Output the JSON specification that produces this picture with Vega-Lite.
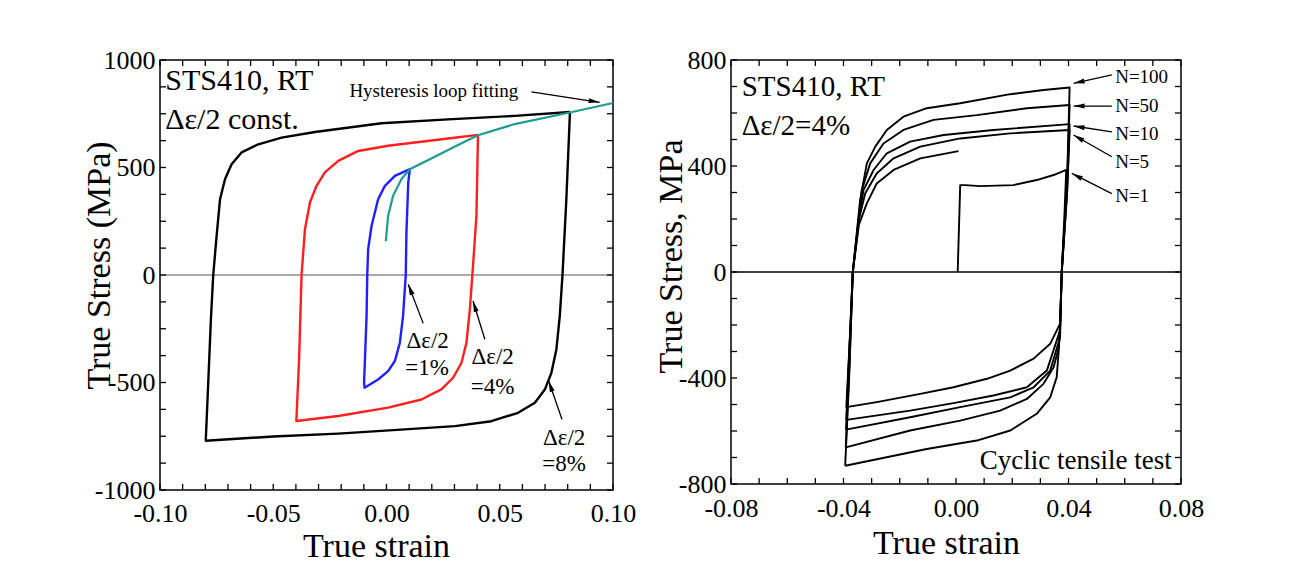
{
  "$schema": "https://vega.github.io/schema/vega-lite/v6.json",
  "background": "white",
  "padding": {"left": 81, "top": 46, "right": 5, "bottom": 5},
  "config": {
    "font": "Liberation Serif",
    "view": {"stroke": "#000", "strokeWidth": 1.5},
    "axis": {
      "labelFont": "Liberation Serif", "titleFont": "Liberation Serif",
      "labelFontSize": 26, "titleFontSize": 34, "labelColor": "#000", "titleColor": "#000",
      "titleFontWeight": "normal", "grid": false, "domain": false, "ticks": false,
      "labelOverlap": false, "labelFlush": false, "labelBound": false
    },
    "text": {"font": "Liberation Serif", "color": "#000"},
    "tick": {"color": "#000", "thickness": 1.3, "opacity": 1}
  },
  "datasets": {
    "tkLx": [{"v":-0.1},{"v":-0.09},{"v":-0.08},{"v":-0.07},{"v":-0.06},{"v":-0.05},{"v":-0.04},{"v":-0.03},{"v":-0.02},{"v":-0.01},{"v":0},{"v":0.01},{"v":0.02},{"v":0.03},{"v":0.04},{"v":0.05},{"v":0.06},{"v":0.07},{"v":0.08},{"v":0.09},{"v":0.1}],
    "tkLy": [{"v":-1000},{"v":-875},{"v":-750},{"v":-625},{"v":-500},{"v":-375},{"v":-250},{"v":-125},{"v":0},{"v":125},{"v":250},{"v":375},{"v":500},{"v":625},{"v":750},{"v":875},{"v":1000}],
    "tkRx": [{"v":-0.08},{"v":-0.07},{"v":-0.06},{"v":-0.05},{"v":-0.04},{"v":-0.03},{"v":-0.02},{"v":-0.01},{"v":0},{"v":0.01},{"v":0.02},{"v":0.03},{"v":0.04},{"v":0.05},{"v":0.06},{"v":0.07},{"v":0.08}],
    "tkRy": [{"v":-800},{"v":-700},{"v":-600},{"v":-500},{"v":-400},{"v":-300},{"v":-200},{"v":-100},{"v":0},{"v":100},{"v":200},{"v":300},{"v":400},{"v":500},{"v":600},{"v":700},{"v":800}],
    "loopsL": [
      {"loop":"8%","i":0,"x":0.081,"y":758},{"loop":"8%","i":1,"x":0.0794,"y":352},{"loop":"8%","i":2,"x":0.0777,"y":0},
      {"loop":"8%","i":3,"x":0.0765,"y":-191},{"loop":"8%","i":4,"x":0.075,"y":-346},{"loop":"8%","i":5,"x":0.0728,"y":-455},
      {"loop":"8%","i":6,"x":0.0699,"y":-533},{"loop":"8%","i":7,"x":0.0655,"y":-594},{"loop":"8%","i":8,"x":0.0581,"y":-641},
      {"loop":"8%","i":9,"x":0.0463,"y":-680},{"loop":"8%","i":10,"x":0.0302,"y":-703},{"loop":"8%","i":11,"x":0.0081,"y":-718},
      {"loop":"8%","i":12,"x":-0.0213,"y":-738},{"loop":"8%","i":13,"x":-0.05,"y":-751},{"loop":"8%","i":14,"x":-0.0798,"y":-771},
      {"loop":"8%","i":15,"x":-0.0787,"y":-500},{"loop":"8%","i":16,"x":-0.0775,"y":-200},{"loop":"8%","i":17,"x":-0.0765,"y":0},
      {"loop":"8%","i":18,"x":-0.075,"y":182},{"loop":"8%","i":19,"x":-0.0735,"y":352},{"loop":"8%","i":20,"x":-0.0713,"y":445},
      {"loop":"8%","i":21,"x":-0.0684,"y":515},{"loop":"8%","i":22,"x":-0.064,"y":570},{"loop":"8%","i":23,"x":-0.0566,"y":608},
      {"loop":"8%","i":24,"x":-0.0463,"y":639},{"loop":"8%","i":25,"x":-0.0316,"y":665},{"loop":"8%","i":26,"x":-0.0022,"y":706},
      {"loop":"8%","i":27,"x":0.0272,"y":724},{"loop":"8%","i":28,"x":0.0566,"y":740},{"loop":"8%","i":29,"x":0.081,"y":758},
      {"loop":"4%","i":0,"x":0.0404,"y":652},{"loop":"4%","i":1,"x":0.0397,"y":275},{"loop":"4%","i":2,"x":0.0387,"y":120},
      {"loop":"4%","i":3,"x":0.0379,"y":0},{"loop":"4%","i":4,"x":0.0368,"y":-160},{"loop":"4%","i":5,"x":0.0353,"y":-315},
      {"loop":"4%","i":6,"x":0.0331,"y":-408},{"loop":"4%","i":7,"x":0.0294,"y":-478},{"loop":"4%","i":8,"x":0.0242,"y":-532},
      {"loop":"4%","i":9,"x":0.0154,"y":-579},{"loop":"4%","i":10,"x":0.0007,"y":-617},{"loop":"4%","i":11,"x":-0.0213,"y":-656},
      {"loop":"4%","i":12,"x":-0.0398,"y":-679},{"loop":"4%","i":13,"x":-0.0386,"y":-395},{"loop":"4%","i":14,"x":-0.0375,"y":0},
      {"loop":"4%","i":15,"x":-0.036,"y":213},{"loop":"4%","i":16,"x":-0.0338,"y":337},{"loop":"4%","i":17,"x":-0.0309,"y":415},
      {"loop":"4%","i":18,"x":-0.0272,"y":477},{"loop":"4%","i":19,"x":-0.0213,"y":531},{"loop":"4%","i":20,"x":-0.0125,"y":577},
      {"loop":"4%","i":21,"x":0.0007,"y":601},{"loop":"4%","i":22,"x":0.0125,"y":616},{"loop":"4%","i":23,"x":0.0272,"y":635},
      {"loop":"4%","i":24,"x":0.0404,"y":652},
      {"loop":"1%","i":0,"x":0.0103,"y":492},{"loop":"1%","i":1,"x":0.0096,"y":430},{"loop":"1%","i":2,"x":0.0088,"y":197},
      {"loop":"1%","i":3,"x":0.0085,"y":0},{"loop":"1%","i":4,"x":0.0073,"y":-191},{"loop":"1%","i":5,"x":0.0059,"y":-315},
      {"loop":"1%","i":6,"x":0.0037,"y":-400},{"loop":"1%","i":7,"x":0.0007,"y":-447},{"loop":"1%","i":8,"x":-0.0037,"y":-486},
      {"loop":"1%","i":9,"x":-0.0097,"y":-524},{"loop":"1%","i":10,"x":-0.0099,"y":-501},{"loop":"1%","i":11,"x":-0.0088,"y":-191},
      {"loop":"1%","i":12,"x":-0.0085,"y":0},{"loop":"1%","i":13,"x":-0.0081,"y":120},{"loop":"1%","i":14,"x":-0.0066,"y":228},
      {"loop":"1%","i":15,"x":-0.0037,"y":352},{"loop":"1%","i":16,"x":-0.0007,"y":415},{"loop":"1%","i":17,"x":0.0037,"y":461},
      {"loop":"1%","i":18,"x":0.0103,"y":492}
    ],
    "fitL": [
      {"i":0,"x":-0.0003,"y":158},{"i":1,"x":0.0007,"y":275},{"i":2,"x":0.0029,"y":368},{"i":3,"x":0.0066,"y":446},
      {"i":4,"x":0.0103,"y":492},{"i":5,"x":0.0198,"y":542},{"i":6,"x":0.0272,"y":581},{"i":7,"x":0.0345,"y":620},
      {"i":8,"x":0.0404,"y":650},{"i":9,"x":0.0566,"y":702},{"i":10,"x":0.0809,"y":756},{"i":11,"x":0.1,"y":800}
    ],
    "bigL": [
      {"t":"STS410, RT","x":-0.0977,"y":903},
      {"t":"Δε/2 const.","x":-0.0977,"y":721}
    ],
    "midL": [
      {"t":"Δε/2","x":0.0088,"y":-307},{"t":"=1%","x":0.0083,"y":-434},
      {"t":"Δε/2","x":0.0375,"y":-383},{"t":"=4%","x":0.0372,"y":-523},
      {"t":"Δε/2","x":0.0691,"y":-756},{"t":"=8%","x":0.0688,"y":-881}
    ],
    "smallL": [
      {"t":"Hysteresis loop fitting","x":0.0209,"y":857}
    ],
    "arrowsL": [
      {"id":"fit","x":0.064,"y":852,"x2":0.0941,"y2":803},
      {"id":"a1","x":0.0162,"y":-225,"x2":0.0096,"y2":-43},
      {"id":"a4","x":0.0434,"y":-299,"x2":0.0382,"y2":-121},
      {"id":"a8","x":0.0775,"y":-672,"x2":0.0716,"y2":-493}
    ],
    "loopsR": [
      {"n":"N=100","i":0,"x":-0.0394,"y":-731},{"n":"N=100","i":1,"x":-0.038,"y":-400},{"n":"N=100","i":2,"x":-0.0367,"y":0},
      {"n":"N=100","i":3,"x":-0.0341,"y":271},{"n":"N=100","i":4,"x":-0.0317,"y":410},{"n":"N=100","i":5,"x":-0.0287,"y":473},
      {"n":"N=100","i":6,"x":-0.0246,"y":536},{"n":"N=100","i":7,"x":-0.0187,"y":586},{"n":"N=100","i":8,"x":-0.0104,"y":618},
      {"n":"N=100","i":9,"x":0.0015,"y":637},{"n":"N=100","i":10,"x":0.0193,"y":671},{"n":"N=100","i":11,"x":0.0311,"y":687},
      {"n":"N=100","i":12,"x":0.0404,"y":696},{"n":"N=100","i":13,"x":0.0395,"y":350},{"n":"N=100","i":14,"x":0.0376,"y":0},
      {"n":"N=100","i":15,"x":0.037,"y":-200},{"n":"N=100","i":16,"x":0.0365,"y":-300},{"n":"N=100","i":17,"x":0.0358,"y":-397},
      {"n":"N=100","i":18,"x":0.0335,"y":-473},{"n":"N=100","i":19,"x":0.0287,"y":-535},{"n":"N=100","i":20,"x":0.0193,"y":-598},
      {"n":"N=100","i":21,"x":0.0074,"y":-636},{"n":"N=100","i":22,"x":-0.0104,"y":-668},{"n":"N=100","i":23,"x":-0.0394,"y":-731},
      {"n":"N=50","i":0,"x":-0.0392,"y":-662},{"n":"N=50","i":1,"x":-0.0378,"y":-330},{"n":"N=50","i":2,"x":-0.0367,"y":0},
      {"n":"N=50","i":3,"x":-0.0335,"y":309},{"n":"N=50","i":4,"x":-0.0305,"y":410},{"n":"N=50","i":5,"x":-0.0258,"y":485},
      {"n":"N=50","i":6,"x":-0.0187,"y":536},{"n":"N=50","i":7,"x":-0.008,"y":574},{"n":"N=50","i":8,"x":0.0074,"y":592},
      {"n":"N=50","i":9,"x":0.0252,"y":618},{"n":"N=50","i":10,"x":0.0404,"y":630},{"n":"N=50","i":11,"x":0.0395,"y":330},
      {"n":"N=50","i":12,"x":0.0376,"y":0},{"n":"N=50","i":13,"x":0.037,"y":-200},{"n":"N=50","i":14,"x":0.0366,"y":-284},
      {"n":"N=50","i":15,"x":0.0347,"y":-359},{"n":"N=50","i":16,"x":0.0311,"y":-422},{"n":"N=50","i":17,"x":0.0252,"y":-479},
      {"n":"N=50","i":18,"x":0.0157,"y":-523},{"n":"N=50","i":19,"x":0.0015,"y":-561},{"n":"N=50","i":20,"x":-0.0163,"y":-598},
      {"n":"N=50","i":21,"x":-0.0392,"y":-662},
      {"n":"N=10","i":0,"x":-0.0391,"y":-595},{"n":"N=10","i":1,"x":-0.0367,"y":0},{"n":"N=10","i":2,"x":-0.0345,"y":200},
      {"n":"N=10","i":3,"x":-0.0329,"y":309},{"n":"N=10","i":4,"x":-0.0293,"y":385},{"n":"N=10","i":5,"x":-0.0246,"y":448},
      {"n":"N=10","i":6,"x":-0.0163,"y":492},{"n":"N=10","i":7,"x":-0.0044,"y":517},{"n":"N=10","i":8,"x":0.0133,"y":536},
      {"n":"N=10","i":9,"x":0.0404,"y":558},{"n":"N=10","i":10,"x":0.0395,"y":300},{"n":"N=10","i":11,"x":0.0376,"y":0},
      {"n":"N=10","i":12,"x":0.037,"y":-246},{"n":"N=10","i":13,"x":0.0335,"y":-372},{"n":"N=10","i":14,"x":0.0276,"y":-435},
      {"n":"N=10","i":15,"x":0.0193,"y":-473},{"n":"N=10","i":16,"x":0.0015,"y":-510},{"n":"N=10","i":17,"x":-0.0163,"y":-548},
      {"n":"N=10","i":18,"x":-0.0391,"y":-595},
      {"n":"N=5","i":0,"x":-0.039,"y":-558},{"n":"N=5","i":1,"x":-0.0367,"y":0},{"n":"N=5","i":2,"x":-0.0345,"y":200},
      {"n":"N=5","i":3,"x":-0.0323,"y":296},{"n":"N=5","i":4,"x":-0.0282,"y":372},{"n":"N=5","i":5,"x":-0.0222,"y":429},
      {"n":"N=5","i":6,"x":-0.0127,"y":473},{"n":"N=5","i":7,"x":0.0015,"y":504},{"n":"N=5","i":8,"x":0.0193,"y":523},
      {"n":"N=5","i":9,"x":0.0404,"y":536},{"n":"N=5","i":10,"x":0.0395,"y":300},{"n":"N=5","i":11,"x":0.0376,"y":0},
      {"n":"N=5","i":12,"x":0.037,"y":-220},{"n":"N=5","i":13,"x":0.0323,"y":-372},{"n":"N=5","i":14,"x":0.0252,"y":-435},
      {"n":"N=5","i":15,"x":0.0133,"y":-466},{"n":"N=5","i":16,"x":-0.0009,"y":-495},{"n":"N=5","i":17,"x":-0.0163,"y":-523},
      {"n":"N=5","i":18,"x":-0.039,"y":-558},
      {"n":"N=1","i":0,"x":0.0006,"y":0},{"n":"N=1","i":1,"x":0.0015,"y":328},{"n":"N=1","i":2,"x":0.0033,"y":328},
      {"n":"N=1","i":3,"x":0.0086,"y":324},{"n":"N=1","i":4,"x":0.0204,"y":328},{"n":"N=1","i":5,"x":0.0287,"y":347},
      {"n":"N=1","i":6,"x":0.0347,"y":366},{"n":"N=1","i":7,"x":0.0392,"y":385},{"n":"N=1","i":8,"x":0.0385,"y":200},
      {"n":"N=1","i":9,"x":0.0376,"y":0},{"n":"N=1","i":10,"x":0.037,"y":-195},{"n":"N=1","i":11,"x":0.0335,"y":-271},
      {"n":"N=1","i":12,"x":0.0276,"y":-327},{"n":"N=1","i":13,"x":0.0193,"y":-372},{"n":"N=1","i":14,"x":0.011,"y":-403},
      {"n":"N=1","i":15,"x":-0.0009,"y":-435},{"n":"N=1","i":16,"x":-0.0127,"y":-460},{"n":"N=1","i":17,"x":-0.0282,"y":-491},
      {"n":"N=1","i":18,"x":-0.039,"y":-510},{"n":"N=1","i":19,"x":-0.0375,"y":-200},{"n":"N=1","i":20,"x":-0.0367,"y":0},
      {"n":"N=1","i":21,"x":-0.0345,"y":180},{"n":"N=1","i":22,"x":-0.0317,"y":259},{"n":"N=1","i":23,"x":-0.0282,"y":334},
      {"n":"N=1","i":24,"x":-0.0222,"y":385},{"n":"N=1","i":25,"x":-0.0127,"y":429},{"n":"N=1","i":26,"x":0.0009,"y":456}
    ],
    "bigR": [
      {"t":"STS410, RT","x":-0.0762,"y":699},
      {"t":"Δε/2=4%","x":-0.0762,"y":552}
    ],
    "nR": [
      {"t":"N=100","x":0.0566,"y":734},{"t":"N=50","x":0.0566,"y":628},{"t":"N=10","x":0.0566,"y":520},
      {"t":"N=5","x":0.0566,"y":415},{"t":"N=1","x":0.0566,"y":286}
    ],
    "noteR": [
      {"t":"Cyclic tensile test","x":0.0767,"y":-712}
    ],
    "arrowsR": [
      {"id":"n100","x":0.0554,"y":744,"x2":0.0418,"y2":712},
      {"id":"n50","x":0.0554,"y":626,"x2":0.0418,"y2":626},
      {"id":"n10","x":0.0554,"y":529,"x2":0.0418,"y2":551},
      {"id":"n5","x":0.0554,"y":435,"x2":0.0418,"y2":517},
      {"id":"n1","x":0.0554,"y":296,"x2":0.0412,"y2":372}
    ]
  },
  "spacing": 16,
  "hconcat": [
    {
      "width": 453,
      "height": 430,
      "resolve": {"axis": {"x": "independent", "y": "independent"}},
      "layer": [
        {
          "data": {"values": [{"y": 0}]},
          "mark": {"type": "rule", "color": "#555", "strokeWidth": 1},
          "encoding": {"y": {"field": "y", "type": "quantitative", "scale": {"domain": [-1000, 1000], "nice": false}, "axis": null}}
        },
        {
          "data": {"name": "tkLx"},
          "mark": {"type": "tick", "orient": "vertical", "size": 6, "yOffset": -3},
          "encoding": {
            "x": {"field": "v", "type": "quantitative", "scale": {"domain": [-0.1, 0.1], "nice": false, "zero": false}, "axis": null},
            "y": {"datum": -1000, "type": "quantitative", "axis": null}
          }
        },
        {
          "data": {"name": "tkLx"},
          "mark": {"type": "tick", "orient": "vertical", "size": 6, "yOffset": 3},
          "encoding": {
            "x": {"field": "v", "type": "quantitative", "axis": null},
            "y": {"datum": 1000, "type": "quantitative", "axis": null}
          }
        },
        {
          "data": {"name": "tkLy"},
          "mark": {"type": "tick", "orient": "horizontal", "size": 6, "xOffset": 3},
          "encoding": {
            "y": {"field": "v", "type": "quantitative", "axis": null},
            "x": {"datum": -0.1, "type": "quantitative", "axis": null}
          }
        },
        {
          "data": {"name": "tkLy"},
          "mark": {"type": "tick", "orient": "horizontal", "size": 6, "xOffset": -3},
          "encoding": {
            "y": {"field": "v", "type": "quantitative", "axis": null},
            "x": {"datum": 0.1, "type": "quantitative", "axis": null}
          }
        },
        {
          "data": {"name": "loopsL"},
          "mark": {"type": "line", "strokeWidth": 2.4, "strokeJoin": "round"},
          "encoding": {
            "x": {"field": "x", "type": "quantitative", "scale": {"domain": [-0.1, 0.1], "nice": false, "zero": false},
              "axis": {"orient": "bottom", "title": "True strain",
                "values": [-0.1,-0.05,0,0.05,0.1],
                "labelExpr": "(datum.value < -0.0001 ? '-' : '') + format(abs(datum.value), '.2f')",
                "labelBaseline": "alphabetic", "labelPadding": 31, "labelFlush": false,
                "titleX": 216, "titleY": 66, "titleBaseline": "alphabetic"}},
            "y": {"field": "y", "type": "quantitative", "scale": {"domain": [-1000, 1000], "nice": false},
              "axis": {"orient": "left", "title": "True Stress (MPa)",
                "values": [-1000,-500,0,500,1000],
                "labelExpr": "(datum.value < 0 ? '-' : '') + format(abs(datum.value), 'd')",
                "labelBaseline": "middle", "labelPadding": 5, "labelFlush": false,
                "titleX": -51, "titleY": 205, "titleBaseline": "alphabetic"}},
            "color": {"field": "loop", "type": "nominal", "scale": {"domain": ["8%", "4%", "1%"], "range": ["#000000", "#ff1f1f", "#1f1fff"]}, "legend": null},
            "order": {"field": "i", "type": "quantitative"}
          }
        },
        {
          "data": {"name": "fitL"},
          "mark": {"type": "line", "strokeWidth": 2.2, "color": "#1f9a94"},
          "encoding": {
            "x": {"field": "x", "type": "quantitative", "axis": null},
            "y": {"field": "y", "type": "quantitative", "axis": null},
            "order": {"field": "i", "type": "quantitative"}
          }
        },
        {
          "data": {"name": "bigL"},
          "mark": {"type": "text", "align": "left", "baseline": "middle", "fontSize": 30},
          "encoding": {
            "x": {"field": "x", "type": "quantitative", "axis": null},
            "y": {"field": "y", "type": "quantitative", "axis": null},
            "text": {"field": "t"}
          }
        },
        {
          "data": {"name": "midL"},
          "mark": {"type": "text", "align": "left", "baseline": "middle", "fontSize": 23},
          "encoding": {
            "x": {"field": "x", "type": "quantitative", "axis": null},
            "y": {"field": "y", "type": "quantitative", "axis": null},
            "text": {"field": "t"}
          }
        },
        {
          "data": {"name": "smallL"},
          "mark": {"type": "text", "align": "center", "baseline": "middle", "fontSize": 19},
          "encoding": {
            "x": {"field": "x", "type": "quantitative", "axis": null},
            "y": {"field": "y", "type": "quantitative", "axis": null},
            "text": {"field": "t"}
          }
        },
        {
          "data": {"name": "arrowsL"},
          "mark": {"type": "rule", "color": "#000", "strokeWidth": 1.3},
          "encoding": {
            "x": {"field": "x", "type": "quantitative", "axis": null},
            "y": {"field": "y", "type": "quantitative", "axis": null},
            "x2": {"field": "x2"},
            "y2": {"field": "y2"}
          }
        },
        {
          "data": {"name": "arrowsL"},
          "transform": [{"filter": "datum.id == 'fit'"}],
          "mark": {"type": "point", "shape": "M0,0L0.5,2.2L-0.5,2.2Z", "filled": true, "color": "#000", "opacity": 1, "size": 100, "angle": 99},
          "encoding": {"x": {"field": "x2", "type": "quantitative", "axis": null}, "y": {"field": "y2", "type": "quantitative", "axis": null}}
        },
        {
          "data": {"name": "arrowsL"},
          "transform": [{"filter": "datum.id == 'a1'"}],
          "mark": {"type": "point", "shape": "M0,0L0.5,2.2L-0.5,2.2Z", "filled": true, "color": "#000", "opacity": 1, "size": 100, "angle": -21},
          "encoding": {"x": {"field": "x2", "type": "quantitative", "axis": null}, "y": {"field": "y2", "type": "quantitative", "axis": null}}
        },
        {
          "data": {"name": "arrowsL"},
          "transform": [{"filter": "datum.id == 'a4'"}],
          "mark": {"type": "point", "shape": "M0,0L0.5,2.2L-0.5,2.2Z", "filled": true, "color": "#000", "opacity": 1, "size": 100, "angle": -17},
          "encoding": {"x": {"field": "x2", "type": "quantitative", "axis": null}, "y": {"field": "y2", "type": "quantitative", "axis": null}}
        },
        {
          "data": {"name": "arrowsL"},
          "transform": [{"filter": "datum.id == 'a8'"}],
          "mark": {"type": "point", "shape": "M0,0L0.5,2.2L-0.5,2.2Z", "filled": true, "color": "#000", "opacity": 1, "size": 100, "angle": -19},
          "encoding": {"x": {"field": "x2", "type": "quantitative", "axis": null}, "y": {"field": "y2", "type": "quantitative", "axis": null}}
        }
      ]
    },
    {
      "width": 450,
      "height": 424,
      "resolve": {"axis": {"x": "independent", "y": "independent"}},
      "layer": [
        {
          "data": {"values": [{"y": 0}]},
          "mark": {"type": "rule", "color": "#000", "strokeWidth": 1.3},
          "encoding": {"y": {"field": "y", "type": "quantitative", "scale": {"domain": [-800, 800], "nice": false}, "axis": null}}
        },
        {
          "data": {"name": "tkRx"},
          "mark": {"type": "tick", "orient": "vertical", "size": 6, "yOffset": -3},
          "encoding": {
            "x": {"field": "v", "type": "quantitative", "scale": {"domain": [-0.08, 0.08], "nice": false, "zero": false}, "axis": null},
            "y": {"datum": -800, "type": "quantitative", "axis": null}
          }
        },
        {
          "data": {"name": "tkRx"},
          "mark": {"type": "tick", "orient": "vertical", "size": 6, "yOffset": 3},
          "encoding": {
            "x": {"field": "v", "type": "quantitative", "axis": null},
            "y": {"datum": 800, "type": "quantitative", "axis": null}
          }
        },
        {
          "data": {"name": "tkRy"},
          "mark": {"type": "tick", "orient": "horizontal", "size": 6, "xOffset": 3},
          "encoding": {
            "y": {"field": "v", "type": "quantitative", "axis": null},
            "x": {"datum": -0.08, "type": "quantitative", "axis": null}
          }
        },
        {
          "data": {"name": "tkRy"},
          "mark": {"type": "tick", "orient": "horizontal", "size": 6, "xOffset": -3},
          "encoding": {
            "y": {"field": "v", "type": "quantitative", "axis": null},
            "x": {"datum": 0.08, "type": "quantitative", "axis": null}
          }
        },
        {
          "data": {"name": "loopsR"},
          "mark": {"type": "line", "strokeWidth": 1.9, "color": "#000", "strokeJoin": "round"},
          "encoding": {
            "x": {"field": "x", "type": "quantitative", "scale": {"domain": [-0.08, 0.08], "nice": false, "zero": false},
              "axis": {"orient": "bottom", "title": "True strain",
                "values": [-0.08,-0.04,0,0.04,0.08],
                "labelExpr": "(datum.value < -0.0001 ? '-' : '') + format(abs(datum.value), '.2f')",
                "labelBaseline": "alphabetic", "labelPadding": 32, "labelFlush": false,
                "titleX": 215, "titleY": 69, "titleBaseline": "alphabetic"}},
            "y": {"field": "y", "type": "quantitative", "scale": {"domain": [-800, 800], "nice": false},
              "axis": {"orient": "left", "title": "True Stress, MPa",
                "values": [-800,-400,0,400,800],
                "labelExpr": "(datum.value < 0 ? '-' : '') + format(abs(datum.value), 'd')",
                "labelBaseline": "middle", "labelPadding": 5, "labelFlush": false,
                "titleX": -50, "titleY": 196, "titleBaseline": "alphabetic"}},
            "detail": {"field": "n"},
            "order": {"field": "i", "type": "quantitative"}
          }
        },
        {
          "data": {"name": "bigR"},
          "mark": {"type": "text", "align": "left", "baseline": "middle", "fontSize": 29},
          "encoding": {
            "x": {"field": "x", "type": "quantitative", "axis": null},
            "y": {"field": "y", "type": "quantitative", "axis": null},
            "text": {"field": "t"}
          }
        },
        {
          "data": {"name": "nR"},
          "mark": {"type": "text", "align": "left", "baseline": "middle", "fontSize": 19},
          "encoding": {
            "x": {"field": "x", "type": "quantitative", "axis": null},
            "y": {"field": "y", "type": "quantitative", "axis": null},
            "text": {"field": "t"}
          }
        },
        {
          "data": {"name": "noteR"},
          "mark": {"type": "text", "align": "right", "baseline": "middle", "fontSize": 27},
          "encoding": {
            "x": {"field": "x", "type": "quantitative", "axis": null},
            "y": {"field": "y", "type": "quantitative", "axis": null},
            "text": {"field": "t"}
          }
        },
        {
          "data": {"name": "arrowsR"},
          "mark": {"type": "rule", "color": "#000", "strokeWidth": 1.3},
          "encoding": {
            "x": {"field": "x", "type": "quantitative", "axis": null},
            "y": {"field": "y", "type": "quantitative", "axis": null},
            "x2": {"field": "x2"},
            "y2": {"field": "y2"}
          }
        },
        {
          "data": {"name": "arrowsR"},
          "transform": [{"filter": "datum.id == 'n100'"}],
          "mark": {"type": "point", "shape": "M0,0L0.5,2.2L-0.5,2.2Z", "filled": true, "color": "#000", "opacity": 1, "size": 100, "angle": -102},
          "encoding": {"x": {"field": "x2", "type": "quantitative", "axis": null}, "y": {"field": "y2", "type": "quantitative", "axis": null}}
        },
        {
          "data": {"name": "arrowsR"},
          "transform": [{"filter": "datum.id == 'n50'"}],
          "mark": {"type": "point", "shape": "M0,0L0.5,2.2L-0.5,2.2Z", "filled": true, "color": "#000", "opacity": 1, "size": 100, "angle": -90},
          "encoding": {"x": {"field": "x2", "type": "quantitative", "axis": null}, "y": {"field": "y2", "type": "quantitative", "axis": null}}
        },
        {
          "data": {"name": "arrowsR"},
          "transform": [{"filter": "datum.id == 'n10'"}],
          "mark": {"type": "point", "shape": "M0,0L0.5,2.2L-0.5,2.2Z", "filled": true, "color": "#000", "opacity": 1, "size": 100, "angle": -81},
          "encoding": {"x": {"field": "x2", "type": "quantitative", "axis": null}, "y": {"field": "y2", "type": "quantitative", "axis": null}}
        },
        {
          "data": {"name": "arrowsR"},
          "transform": [{"filter": "datum.id == 'n5'"}],
          "mark": {"type": "point", "shape": "M0,0L0.5,2.2L-0.5,2.2Z", "filled": true, "color": "#000", "opacity": 1, "size": 100, "angle": -60},
          "encoding": {"x": {"field": "x2", "type": "quantitative", "axis": null}, "y": {"field": "y2", "type": "quantitative", "axis": null}}
        },
        {
          "data": {"name": "arrowsR"},
          "transform": [{"filter": "datum.id == 'n1'"}],
          "mark": {"type": "point", "shape": "M0,0L0.5,2.2L-0.5,2.2Z", "filled": true, "color": "#000", "opacity": 1, "size": 100, "angle": -63},
          "encoding": {"x": {"field": "x2", "type": "quantitative", "axis": null}, "y": {"field": "y2", "type": "quantitative", "axis": null}}
        }
      ]
    }
  ]
}
